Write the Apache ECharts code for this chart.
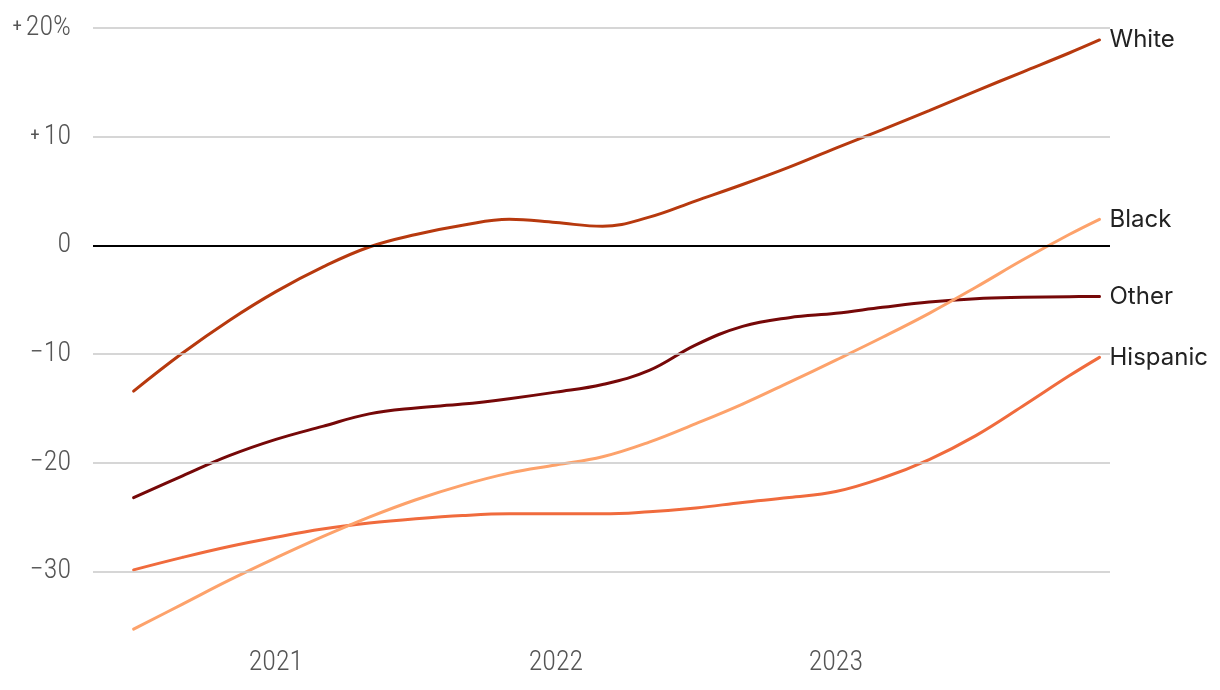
<!DOCTYPE html>
<html>
<head>
<meta charset="utf-8">
<script src="https://cdn.jsdelivr.net/npm/echarts@6/dist/echarts.min.js"></script>
<style>
html,body{margin:0;padding:0;background:#fff;}
#chart{width:1220px;height:690px;}
</style>
</head>
<body>
<div id="chart"></div>
<script>
// months since Jan 2020 (12 = Jan 2021)
var months = [5.9, 8, 10, 12, 14, 16, 18, 20, 22, 24, 26, 28, 30, 32, 34, 36, 38, 40, 42, 44, 46, 47.3];
var white    = [-13.4, -9.9, -6.9, -4.25, -2.0, -0.15, 1.0, 1.85, 2.4, 2.1, 1.75, 2.6, 4.1, 5.6, 7.2, 8.95, 10.65, 12.4, 14.2, 15.95, 17.7, 18.9];
var black    = [-35.3, -33.0, -30.8, -28.75, -26.8, -25.0, -23.4, -22.05, -20.95, -20.2, -19.45, -18.1, -16.4, -14.6, -12.6, -10.55, -8.45, -6.25, -3.85, -1.35, 1.0, 2.4];
var other    = [-23.2, -21.2, -19.35, -17.85, -16.65, -15.5, -14.95, -14.6, -14.1, -13.5, -12.8, -11.5, -9.15, -7.45, -6.65, -6.25, -5.7, -5.2, -4.9, -4.78, -4.72, -4.7];
var hispanic = [-29.85, -28.7, -27.7, -26.85, -26.1, -25.55, -25.15, -24.85, -24.7, -24.7, -24.7, -24.5, -24.15, -23.65, -23.2, -22.65, -21.4, -19.7, -17.5, -14.8, -12.0, -10.3];

var yearTicks = [12, 24, 36];
var yearLabels = ['2021', '2022', '2023'];
var yTicks = [-30, -20, -10, 0, 10, 20];

function pairs(vals) { return months.map(function (m, i) { return [m, vals[i]]; }); }

var tickFont = '"Liberation Sans Narrow", "Roboto Condensed", "DejaVu Sans Condensed", sans-serif';
var labelFont = 'Inter, "Noto Sans", sans-serif';

function lineSeries(name, vals, color) {
  return {
    name: name, type: 'line', data: pairs(vals), smooth: 0.4, showSymbol: false, symbol: 'none',
    lineStyle: { color: color, width: 3, cap: 'round' }, z: 3,
    endLabel: { show: true, formatter: name, distance: 10, color: '#222', fontFamily: labelFont, fontSize: 24 },
    emphasis: { disabled: true }
  };
}

var chart = echarts.init(document.getElementById('chart'));
chart.setOption({
  animation: false,
  backgroundColor: '#fff',
  grid: { left: 93, right: 110, top: 28, bottom: 53.3, containLabel: false },
  xAxis: {
    type: 'value', min: 4.16, max: 47.75,
    axisLine: { show: false }, axisTick: { show: false }, splitLine: { show: false },
    axisLabel: {
      customValues: yearTicks, margin: 12, color: '#555', fontFamily: tickFont, fontSize: 28, fontWeight: 300,
      formatter: function (v) { var i = yearTicks.indexOf(v); return i >= 0 ? yearLabels[i] : ''; }
    }
  },
  yAxis: {
    type: 'value', min: -36, max: 20,
    axisLine: { show: false }, axisTick: { show: false }, splitLine: { show: false },
    axisLabel: {
      customValues: yTicks, margin: 22, fontFamily: tickFont, fontSize: 28, fontWeight: 300,
      color: function (v) { return v === 0 ? '#111' : '#555'; },
      formatter: function (v) {
        if (v === 20) return '{p|+}20%';
        if (v > 0) return '{p|+}' + v;
        if (v < 0) return '−' + (-v);
        return '0';
      },
      rich: { p: { fontSize: 19, padding: [0, 4, 1, 0], fontFamily: tickFont, fontWeight: 400 } }
    }
  },
  series: [
    {
      type: 'line', data: [], silent: true, z: 1,
      markLine: {
        silent: true, symbol: 'none', label: { show: false }, animation: false,
        data: yTicks.map(function (v) {
          return { yAxis: v, lineStyle: { type: 'solid', color: v === 0 ? '#000' : '#c8c8c8', width: v === 0 ? 2 : 1.5 } };
        })
      }
    },
    lineSeries('White', white, '#b7390e'),
    lineSeries('Other', other, '#760808'),
    lineSeries('Hispanic', hispanic, '#f06b3d'),
    lineSeries('Black', black, '#fda26b')
  ]
});
</script>
</body>
</html>
